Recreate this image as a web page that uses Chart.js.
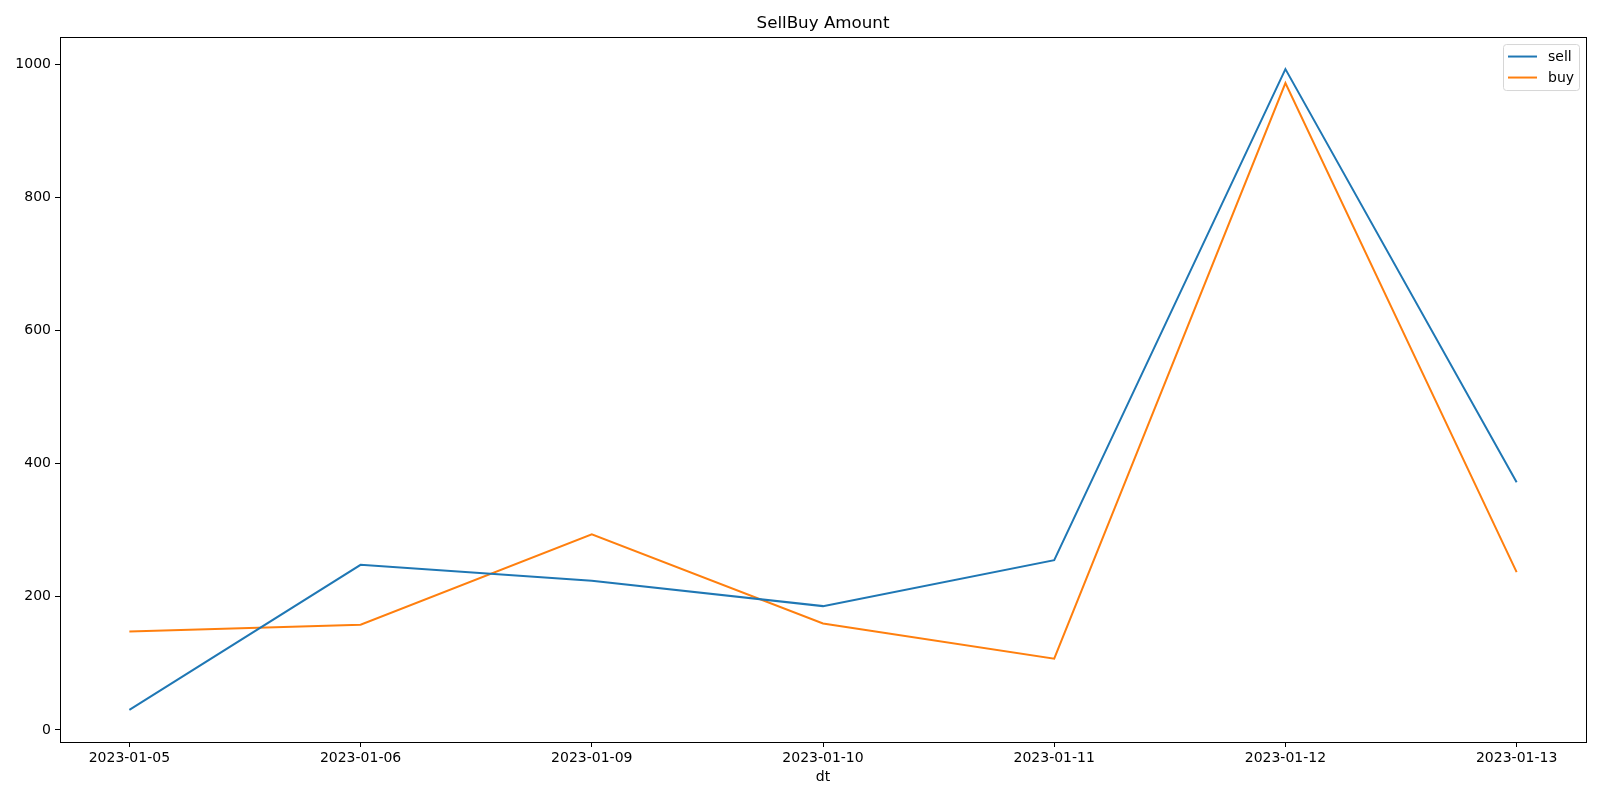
<!DOCTYPE html>
<html>
<head>
<meta charset="utf-8">
<script src="https://cdn.jsdelivr.net/npm/chart.js@4.4.0/dist/chart.umd.min.js"></script>
<style>
    html, body { margin: 0; padding: 0; background: #fff; }
    canvas { display: block; }
</style>
</head>
<body>
<canvas id="myChart" width="1600" height="800"></canvas>
<script>
// Dates on the x axis (plotted as evenly spaced categories)
const dates = ["2023-01-05", "2023-01-06", "2023-01-09", "2023-01-10", "2023-01-11", "2023-01-12", "2023-01-13"];
const sellAmounts = [30, 248, 224, 186, 255, 993, 372];
const buyAmounts = [148, 158, 294, 160, 107, 972, 237];
const yTicks = [0, 200, 400, 600, 800, 1000];

const font = "'DejaVu Sans', sans-serif";

// Function to turn a series into {x, y} points keyed by date index
function toPoints(values) {
    return values.map((v, i) => ({ x: i, y: v }));
}

// Draws the box around the plot area (matplotlib style spines)
const framePlugin = {
    id: 'frame',
    afterDraw(chart) {
        const { ctx, chartArea } = chart;
        ctx.save();
        ctx.strokeStyle = '#000';
        ctx.lineWidth = 1;
        ctx.strokeRect(Math.round(chartArea.left) + 0.5, Math.round(chartArea.top) + 0.5,
            Math.round(chartArea.right - chartArea.left), Math.round(chartArea.bottom - chartArea.top));
        ctx.restore();
    }
};

// Legend drawn inside the upper right corner of the plot
const insideLegend = {
    id: 'insideLegend',
    afterDraw(chart) {
        const { ctx, chartArea } = chart;
        const sets = chart.data.datasets;
        const w = 76, h = 46;
        const x = chartArea.right - 7 - w;
        const y = chartArea.top + 7;
        ctx.save();
        ctx.fillStyle = 'rgba(255,255,255,0.8)';
        ctx.strokeStyle = '#d6d6d6';
        ctx.lineWidth = 1;
        ctx.beginPath();
        ctx.roundRect(x + 0.5, y + 0.5, w, h, 3);
        ctx.fill();
        ctx.stroke();
        ctx.font = '14px ' + font;
        ctx.textBaseline = 'middle';
        sets.forEach((ds, i) => {
            const ly = y + 12.5 + i * 21;
            ctx.strokeStyle = ds.borderColor;
            ctx.lineWidth = 2;
            ctx.beginPath();
            ctx.moveTo(x + 5, ly);
            ctx.lineTo(x + 34, ly);
            ctx.stroke();
            ctx.fillStyle = '#000';
            ctx.fillText(ds.label, x + 45, ly + 1);
        });
        ctx.restore();
    }
};

const ctx = document.getElementById('myChart').getContext('2d');
new Chart(ctx, {
    type: 'line',
    data: {
        datasets: [{
            label: 'sell',
            data: toPoints(sellAmounts),
            borderColor: '#1f77b4',
            backgroundColor: '#1f77b4',
            borderWidth: 2,
            pointRadius: 0,
            tension: 0
        }, {
            label: 'buy',
            data: toPoints(buyAmounts),
            borderColor: '#ff7f0e',
            backgroundColor: '#ff7f0e',
            borderWidth: 2,
            pointRadius: 0,
            tension: 0
        }]
    },
    options: {
        responsive: false,
        animation: false,
        layout: { padding: { left: 0, right: 14, top: 0, bottom: 0 } },
        plugins: {
            legend: { display: false },
            tooltip: { enabled: false },
            title: {
                display: true,
                fullSize: false, // center over the plot area, not the canvas
                text: 'SellBuy Amount',
                color: '#000',
                font: { family: font, size: 16.7, weight: 'normal', lineHeight: 1.2 },
                padding: { top: 14, bottom: 3 }
            }
        },
        scales: {
            x: {
                type: 'linear',
                min: -0.3,
                max: dates.length - 1 + 0.3,
                afterBuildTicks: scale => {
                    scale.ticks = dates.map((d, i) => ({ value: i }));
                },
                afterFit: scale => { scale.height = 58; },
                ticks: {
                    color: '#000',
                    font: { family: font, size: 14 },
                    padding: 3,
                    maxRotation: 0,
                    autoSkip: false,
                    callback: value => dates[value]
                },
                grid: { display: true, drawOnChartArea: false, tickLength: 5, color: '#000' },
                border: { display: false },
                title: {
                    display: true,
                    text: 'dt',
                    color: '#000',
                    font: { family: font, size: 14, lineHeight: 1.2 },
                    padding: { top: 0, bottom: 14 }
                }
            },
            y: {
                min: -18.2,
                max: 1041.2,
                afterBuildTicks: scale => {
                    scale.ticks = yTicks.map(v => ({ value: v }));
                },
                afterFit: scale => { scale.width = 60; },
                ticks: {
                    color: '#000',
                    font: { family: font, size: 14 },
                    padding: 4,
                    callback: value => String(value)
                },
                grid: { display: true, drawOnChartArea: false, tickLength: 5, color: '#000' },
                border: { display: false }
            }
        }
    },
    plugins: [framePlugin, insideLegend]
});
</script>
</body>
</html>
